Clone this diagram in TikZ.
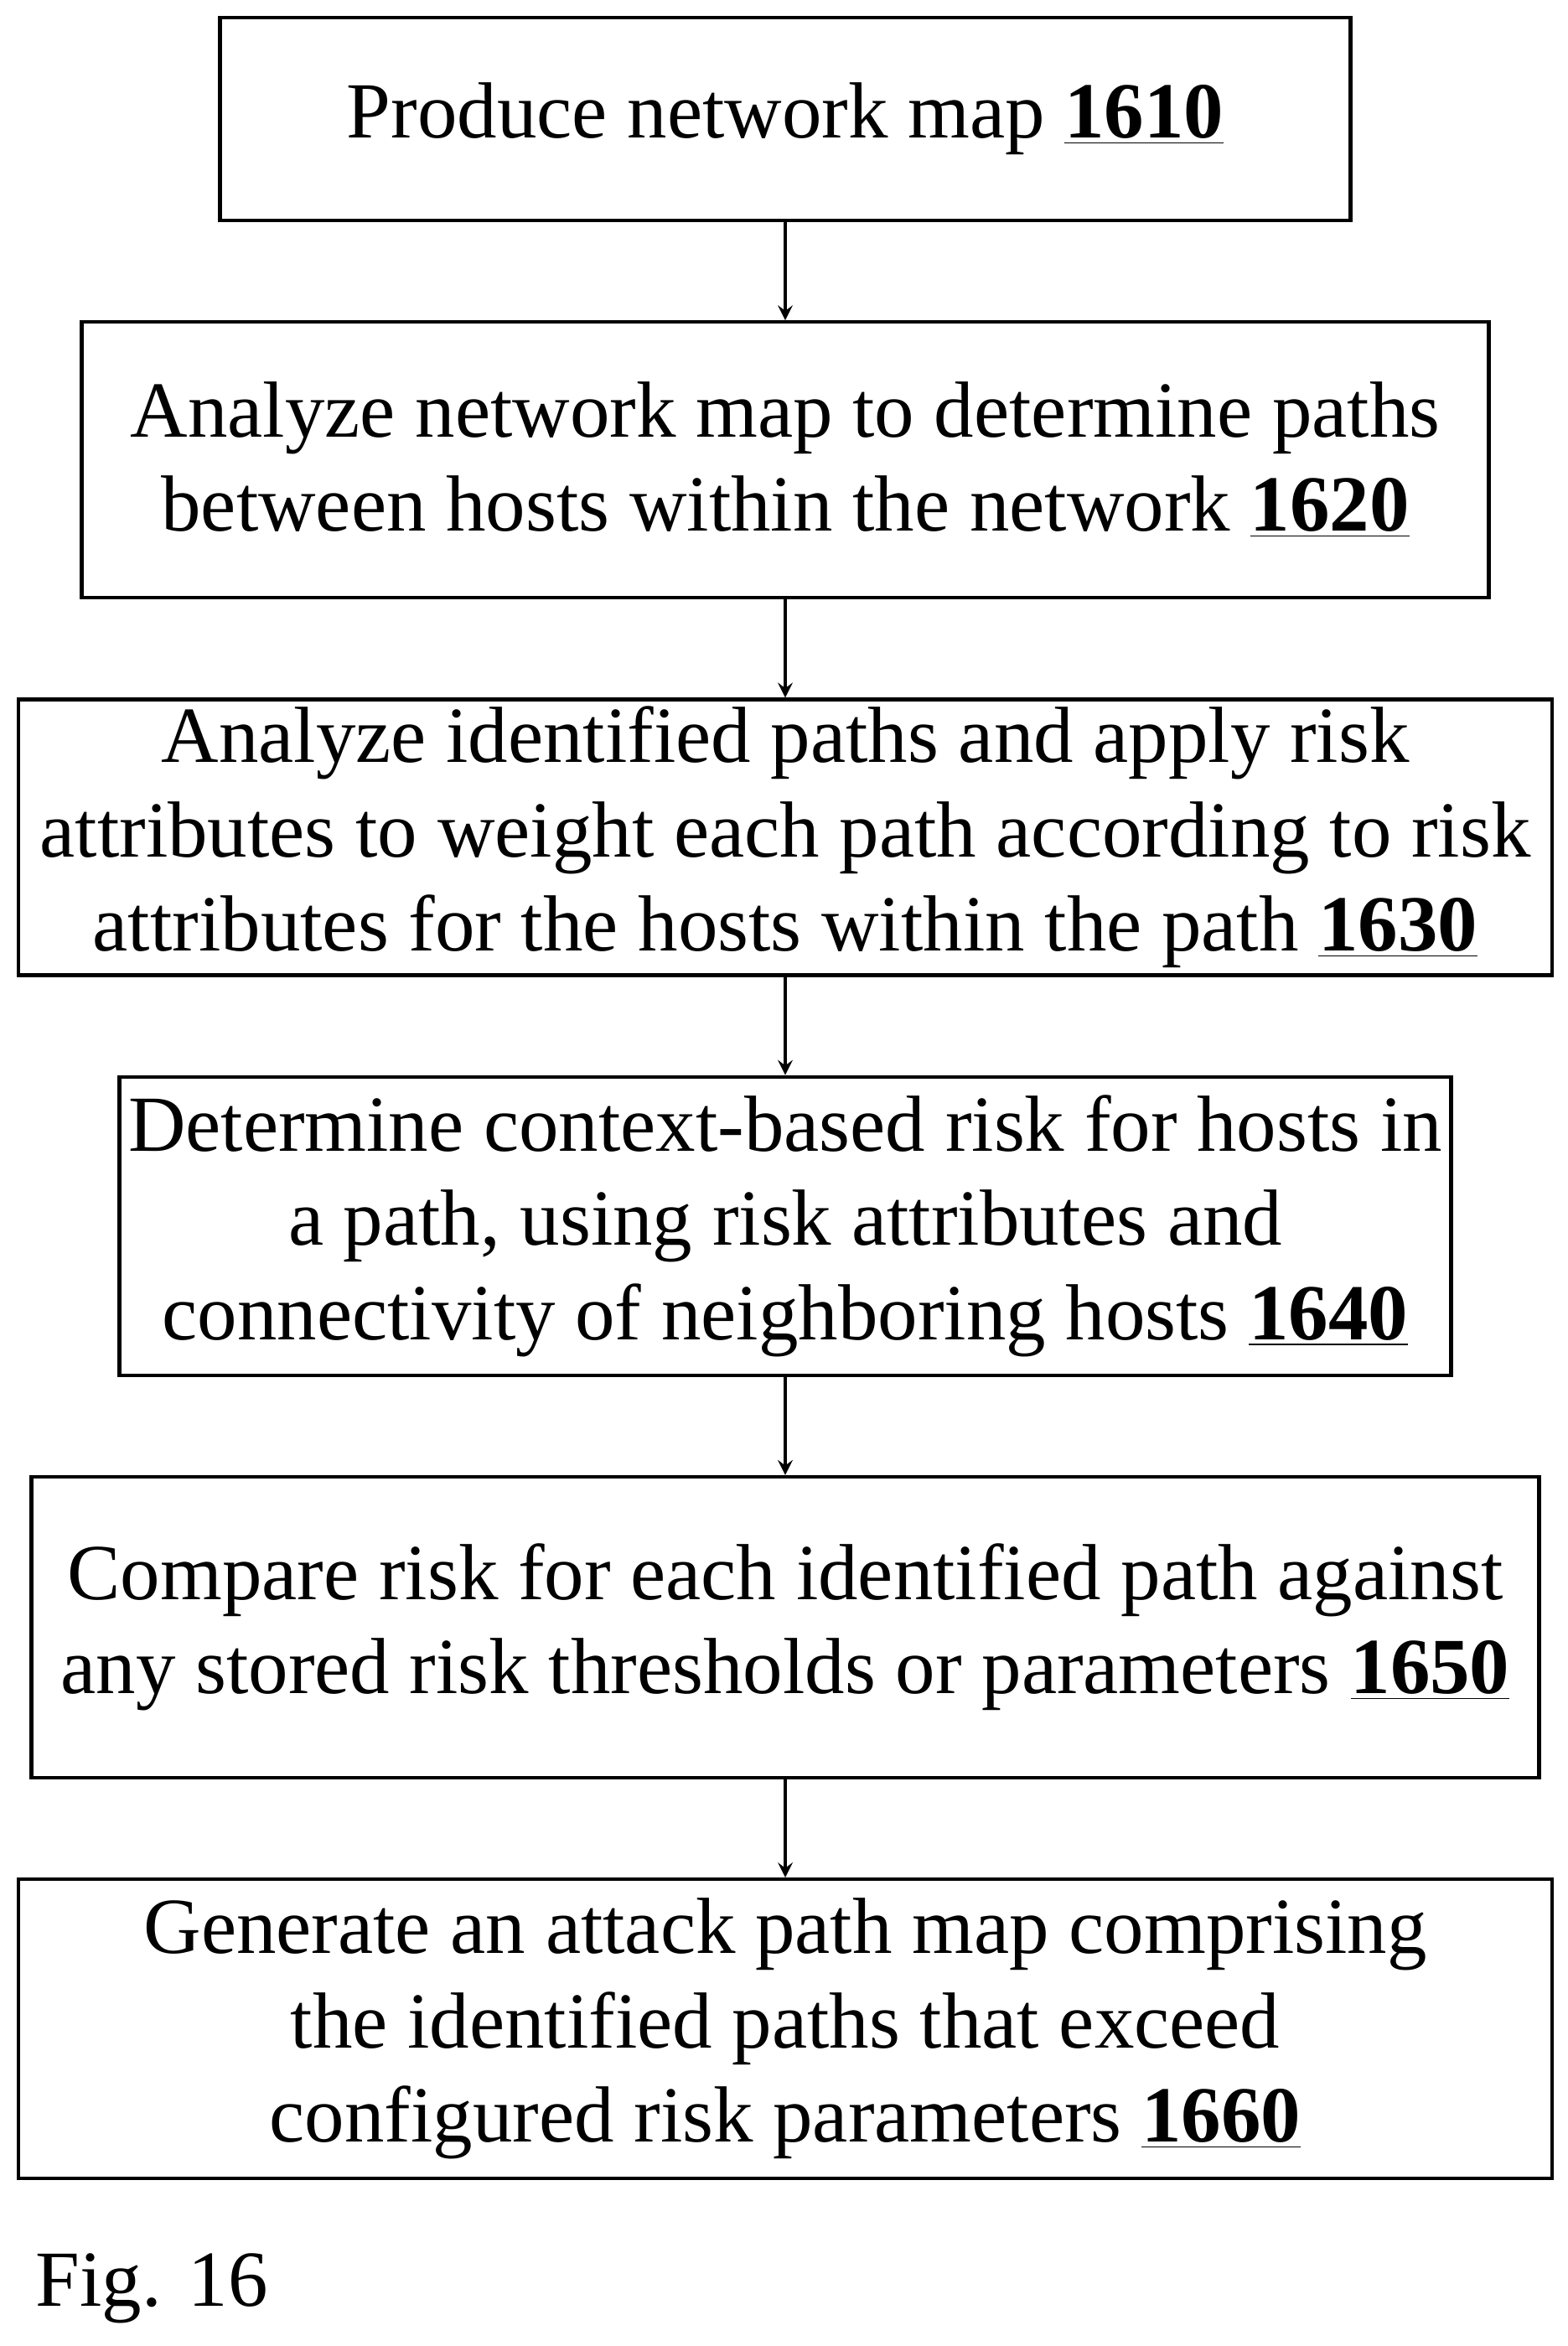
\documentclass[tikz,border=0pt]{standalone}
\usepackage{fontspec}
\setmainfont{Liberation Serif}
\usetikzlibrary{arrows}
\usetikzlibrary{positioning}
\tikzstyle{process} = [rectangle, text centered, align=center, draw=black, line width=1.2pt,
font=\fontsize{27}{32}\selectfont, inner sep=0pt]
\tikzstyle{arrow} = [line width=1.2pt,->,>=stealth]
\newcommand{\refnum}[1]{\underline{\textbf{#1}}}

\begin{document}
\begin{tikzpicture} [node distance=1.17cm]
    \useasboundingbox (0,0) rectangle (18.71,-27.99);
    \node (map) [process, minimum width=13.49cm, minimum height=2.42cm] at (9.37,-1.42) {Produce network map \refnum{1610}};
    \node (paths) [process, below=of map, minimum width=16.79cm, minimum height=3.29cm] {Analyze network map to determine paths\\between hosts within the network \refnum{1620}};
    \node (weight) [process, below=of paths, minimum width=18.30cm, minimum height=3.29cm] {Analyze identified paths and apply risk\\attributes to weight each path according to risk\\attributes for the hosts within the path \refnum{1630}};
    \node (context) [process, below=of weight, minimum width=15.89cm, minimum height=3.56cm] {Determine context-based risk for hosts in\\a path, using risk attributes and\\connectivity of neighboring hosts \refnum{1640}};
    \node (compare) [process, below=of context, minimum width=17.99cm, minimum height=3.59cm] {Compare risk for each identified path against\\any stored risk thresholds or parameters \refnum{1650}};
    \node (attack) [process, below=of compare, minimum width=18.30cm, minimum height=3.57cm] {Generate an attack path map comprising\\the identified paths that exceed\\configured risk parameters \refnum{1660}};
    \node (fig) [font=\fontsize{27}{32}\selectfont, anchor=west, inner sep=0pt] at (0.42,-27.3) {Fig. 16};

    \draw[arrow] (map) -- (paths);
    \draw[arrow] (paths) -- (weight);
    \draw[arrow] (weight) -- (context);
    \draw[arrow] (context) -- (compare);
    \draw[arrow] (compare) -- (attack);

\end{tikzpicture}
\end{document}
